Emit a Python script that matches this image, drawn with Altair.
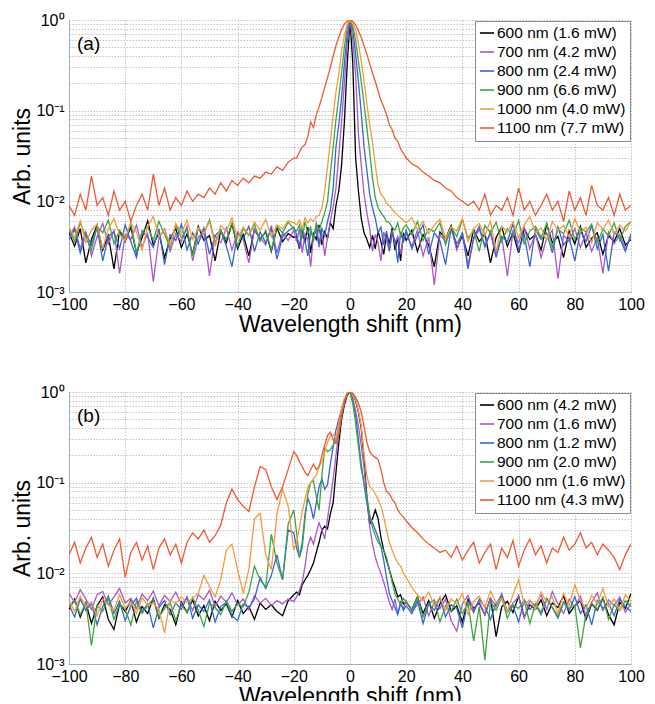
import altair as alt
import pandas as pd

FONT = "Liberation Sans"

# Sample positions (nm): coarse outside, 1 nm steps near the centre
X = [*range(-100, -19, 2), *range(-19, 20), *range(20, 101, 2)]

X_TICKS = [-100, -80, -60, -40, -20, 0, 20, 40, 60, 80, 100]
Y_GRID = [round(m * 10.0 ** e, 6) for e in (-3, -2, -1) for m in range(1, 10)] + [1]

COLORS = ["#000000", "#a858c8", "#3565d2", "#3ca543", "#f59b3e", "#ef5834"]

LABELS_A = ["600 nm (1.6 mW)", "700 nm (4.2 mW)", "800 nm (2.4 mW)",
            "900 nm (6.6 mW)", "1000 nm (4.0 mW)", "1100 nm (7.7 mW)"]
LABELS_B = ["600 nm (4.2 mW)", "700 nm (1.6 mW)", "800 nm (1.2 mW)",
            "900 nm (2.0 mW)", "1000 nm (1.6 mW)", "1100 nm (4.3 mW)"]

# ---------------- panel (a) ----------------
a_600 = ([0.0045, 0.0032, 0.0050, 0.0021, 0.0038, 0.0055, 0.0029, 0.0042, 0.0018, 0.0047,
          0.0036, 0.0052, 0.0027, 0.0040, 0.0061, 0.0033, 0.0045, 0.0024, 0.0039, 0.0050,
          0.0031, 0.0044, 0.0026, 0.0053, 0.0037, 0.0042, 0.0022, 0.0048, 0.0035, 0.0057,
          0.0030, 0.0043, 0.0025, 0.0049, 0.0038, 0.0046, 0.0028, 0.0051, 0.0036, 0.0044, 0.0040]
         + [0.0041, 0.0030, 0.0048, 0.0035, 0.0052, 0.0027, 0.0044, 0.0038, 0.0055, 0.0033,
            0.0046, 0.0039, 0.0058, 0.0050, 0.0090, 0.013, 0.025, 0.075, 0.32, 1.0,
            0.33, 0.030, 0.013, 0.0065, 0.0045, 0.0038, 0.0031, 0.0042, 0.0030, 0.0047,
            0.0036, 0.0026, 0.0044, 0.0034, 0.0051, 0.0029, 0.0040, 0.0022, 0.0045]
         + [0.0037, 0.0048, 0.0028, 0.0043, 0.0033, 0.0019, 0.0046, 0.0039, 0.0054, 0.0030,
            0.0042, 0.0025, 0.0049, 0.0036, 0.0044, 0.0021, 0.0040, 0.0052, 0.0032, 0.0045,
            0.0027, 0.0050, 0.0038, 0.0043, 0.0029, 0.0056, 0.0035, 0.0041, 0.0024, 0.0047,
            0.0034, 0.0053, 0.0031, 0.0039, 0.0045, 0.0026, 0.0042, 0.0036, 0.0050, 0.0033, 0.0038])

a_700 = ([0.0040, 0.0052, 0.0030, 0.0046, 0.0025, 0.0041, 0.0057, 0.0034, 0.0048, 0.0016,
          0.0043, 0.0038, 0.0055, 0.0031, 0.0045, 0.0013, 0.0039, 0.0050, 0.0028, 0.0044,
          0.0036, 0.0053, 0.0022, 0.0040, 0.0047, 0.0015, 0.0042, 0.0035, 0.0051, 0.0029,
          0.0046, 0.0038, 0.0021, 0.0049, 0.0040, 0.0033, 0.0054, 0.0027, 0.0045, 0.0037, 0.0048]
         + [0.0036, 0.0050, 0.0027, 0.0044, 0.0038, 0.0019, 0.0042, 0.0047, 0.0031, 0.0045,
            0.0025, 0.0040, 0.0060, 0.0087, 0.014, 0.032, 0.075, 0.20, 0.55, 1.0,
            0.60, 0.25, 0.055, 0.025, 0.012, 0.0075, 0.0050, 0.0028, 0.0043, 0.0035,
            0.0022, 0.0046, 0.0037, 0.0029, 0.0048, 0.0034, 0.0041, 0.0026, 0.0039]
         + [0.0044, 0.0032, 0.0048, 0.0025, 0.0040, 0.0012, 0.0043, 0.0036, 0.0051, 0.0029,
            0.0046, 0.0020, 0.0038, 0.0049, 0.0033, 0.0045, 0.0027, 0.0041, 0.0015, 0.0047,
            0.0035, 0.0052, 0.0030, 0.0044, 0.0024, 0.0039, 0.0048, 0.0014, 0.0042, 0.0036,
            0.0050, 0.0031, 0.0045, 0.0028, 0.0040, 0.0016, 0.0046, 0.0034, 0.0043, 0.0030, 0.0041])

a_800 = ([0.0038, 0.0049, 0.0027, 0.0044, 0.0033, 0.0052, 0.0022, 0.0041, 0.0046, 0.0030,
          0.0055, 0.0036, 0.0024, 0.0047, 0.0040, 0.0031, 0.0050, 0.0020, 0.0043, 0.0037,
          0.0056, 0.0029, 0.0045, 0.0034, 0.0051, 0.0026, 0.0042, 0.0048, 0.0032, 0.0019,
          0.0044, 0.0039, 0.0053, 0.0028, 0.0046, 0.0035, 0.0050, 0.0023, 0.0041, 0.0047, 0.0052]
         + [0.0043, 0.0031, 0.0052, 0.0036, 0.0025, 0.0047, 0.0039, 0.0055, 0.0034, 0.0050,
            0.0042, 0.0060, 0.0080, 0.014, 0.040, 0.070, 0.14, 0.33, 0.70, 1.0,
            0.78, 0.42, 0.21, 0.095, 0.040, 0.022, 0.012, 0.0085, 0.0065, 0.0045,
            0.0052, 0.0033, 0.0047, 0.0028, 0.0044, 0.0037, 0.0021, 0.0046, 0.0035]
         + [0.0048, 0.0030, 0.0042, 0.0055, 0.0026, 0.0045, 0.0037, 0.0020, 0.0050, 0.0034,
            0.0044, 0.0018, 0.0040, 0.0053, 0.0031, 0.0046, 0.0024, 0.0041, 0.0036, 0.0057,
            0.0029, 0.0043, 0.0019, 0.0049, 0.0038, 0.0045, 0.0027, 0.0052, 0.0033, 0.0040,
            0.0022, 0.0047, 0.0036, 0.0054, 0.0030, 0.0043, 0.0017, 0.0046, 0.0039, 0.0028, 0.0044])

a_900 = ([0.0050, 0.0036, 0.0058, 0.0041, 0.0029, 0.0053, 0.0045, 0.0062, 0.0034, 0.0048,
          0.0039, 0.0057, 0.0027, 0.0046, 0.0052, 0.0037, 0.0060, 0.0043, 0.0031, 0.0055,
          0.0040, 0.0049, 0.0025, 0.0051, 0.0044, 0.0063, 0.0035, 0.0047, 0.0038, 0.0058,
          0.0032, 0.0050, 0.0042, 0.0056, 0.0036, 0.0048, 0.0029, 0.0053, 0.0045, 0.0059, 0.0050]
         + [0.0047, 0.0055, 0.0039, 0.0060, 0.0044, 0.0052, 0.0036, 0.0058, 0.0048, 0.0060,
            0.0075, 0.010, 0.020, 0.040, 0.080, 0.14, 0.26, 0.50, 0.82, 1.0,
            0.85, 0.60, 0.35, 0.21, 0.12, 0.065, 0.035, 0.018, 0.011, 0.0085,
            0.0075, 0.0068, 0.0060, 0.0058, 0.0052, 0.0048, 0.0058, 0.0042, 0.0051]
         + [0.0055, 0.0043, 0.0060, 0.0037, 0.0050, 0.0046, 0.0058, 0.0033, 0.0052, 0.0041,
            0.0063, 0.0039, 0.0048, 0.0028, 0.0054, 0.0045, 0.0059, 0.0036, 0.0050, 0.0042,
            0.0061, 0.0034, 0.0047, 0.0053, 0.0040, 0.0057, 0.0031, 0.0049, 0.0044, 0.0062,
            0.0038, 0.0051, 0.0046, 0.0056, 0.0035, 0.0049, 0.0042, 0.0058, 0.0037, 0.0053, 0.0060])

a_1000 = ([0.0052, 0.0040, 0.0061, 0.0035, 0.0048, 0.0056, 0.0030, 0.0050, 0.0064, 0.0043,
           0.0037, 0.0058, 0.0046, 0.0029, 0.0053, 0.0068, 0.0041, 0.0049, 0.0033, 0.0057,
           0.0045, 0.0062, 0.0038, 0.0051, 0.0044, 0.0060, 0.0032, 0.0054, 0.0047, 0.0066,
           0.0039, 0.0052, 0.0043, 0.0059, 0.0048, 0.0063, 0.0041, 0.0055, 0.0050, 0.0061, 0.0058]
          + [0.0055, 0.0062, 0.0050, 0.0066, 0.0058, 0.0064, 0.0060, 0.0068, 0.0070, 0.0085,
             0.013, 0.024, 0.045, 0.090, 0.16, 0.25, 0.45, 0.68, 0.90, 1.0,
             0.92, 0.78, 0.55, 0.35, 0.21, 0.12, 0.070, 0.045, 0.025, 0.015,
             0.012, 0.011, 0.0095, 0.0090, 0.0082, 0.0075, 0.0070, 0.0066, 0.0062]
          + [0.0058, 0.0066, 0.0049, 0.0060, 0.0044, 0.0055, 0.0063, 0.0039, 0.0052, 0.0047,
             0.0065, 0.0036, 0.0050, 0.0057, 0.0042, 0.0061, 0.0028, 0.0053, 0.0046, 0.0059,
             0.0040, 0.0055, 0.0068, 0.0045, 0.0051, 0.0037, 0.0060, 0.0048, 0.0054, 0.0041,
             0.0064, 0.0046, 0.0052, 0.0035, 0.0058, 0.0049, 0.0062, 0.0043, 0.0055, 0.0047, 0.0060])

a_1100 = ([0.009, 0.007, 0.012, 0.008, 0.019, 0.009, 0.011, 0.007, 0.013, 0.008,
           0.010, 0.006, 0.009, 0.012, 0.008, 0.020, 0.009, 0.014, 0.008, 0.011,
           0.009, 0.013, 0.010, 0.012, 0.011, 0.014, 0.012, 0.016, 0.013, 0.017,
           0.015, 0.018, 0.016, 0.019, 0.018, 0.021, 0.020, 0.024, 0.022, 0.027, 0.030]
          + [0.030, 0.035, 0.040, 0.042, 0.052, 0.075, 0.065, 0.090, 0.11, 0.14,
             0.18, 0.23, 0.30, 0.40, 0.52, 0.65, 0.78, 0.90, 0.97, 1.0,
             0.97, 0.88, 0.76, 0.64, 0.52, 0.42, 0.33, 0.26, 0.21, 0.165,
             0.13, 0.11, 0.090, 0.070, 0.062, 0.050, 0.046, 0.038, 0.034]
          + [0.030, 0.026, 0.024, 0.021, 0.019, 0.017, 0.016, 0.014, 0.013, 0.011,
             0.010, 0.009, 0.010, 0.008, 0.012, 0.007, 0.009, 0.008, 0.011, 0.007,
             0.014, 0.008, 0.010, 0.007, 0.009, 0.012, 0.008, 0.010, 0.006, 0.013,
             0.008, 0.011, 0.007, 0.015, 0.009, 0.008, 0.011, 0.007, 0.012, 0.008, 0.009])

# ---------------- panel (b) ----------------
b_600 = ([0.0040, 0.0052, 0.0033, 0.0047, 0.0028, 0.0044, 0.0055, 0.0031, 0.0024, 0.0046,
          0.0038, 0.0050, 0.0029, 0.0043, 0.0036, 0.0053, 0.0032, 0.0045, 0.0040, 0.0027,
          0.0048, 0.0037, 0.0051, 0.0034, 0.0044, 0.0030, 0.0049, 0.0039, 0.0046, 0.0033,
          0.0050, 0.0036, 0.0043, 0.0031, 0.0047, 0.0040, 0.0045, 0.0038, 0.0034, 0.0050, 0.0058]
         + [0.0062, 0.0058, 0.0075, 0.0085, 0.0095, 0.011, 0.013, 0.017, 0.022, 0.030,
            0.033, 0.031, 0.045, 0.060, 0.13, 0.27, 0.50, 0.72, 0.92, 1.0,
            0.95, 0.80, 0.60, 0.40, 0.18, 0.070, 0.035, 0.040, 0.050, 0.040,
            0.025, 0.018, 0.014, 0.011, 0.0085, 0.0070, 0.0055, 0.0058, 0.0046]
         + [0.0048, 0.0040, 0.0055, 0.0036, 0.0050, 0.0032, 0.0046, 0.0058, 0.0038, 0.0044,
            0.0029, 0.0052, 0.0041, 0.0047, 0.0035, 0.0054, 0.0020, 0.0043, 0.0049, 0.0037,
            0.0056, 0.0033, 0.0045, 0.0040, 0.0051, 0.0034, 0.0047, 0.0042, 0.0057, 0.0036,
            0.0044, 0.0050, 0.0031, 0.0046, 0.0039, 0.0053, 0.0035, 0.0027, 0.0048, 0.0041, 0.0060])

b_700 = ([0.0060, 0.0048, 0.0066, 0.0052, 0.0040, 0.0058, 0.0063, 0.0045, 0.0055, 0.0068,
          0.0047, 0.0053, 0.0041, 0.0059, 0.0050, 0.0064, 0.0044, 0.0057, 0.0049, 0.0062,
          0.0046, 0.0054, 0.0039, 0.0058, 0.0051, 0.0065, 0.0043, 0.0056, 0.0048, 0.0061,
          0.0045, 0.0052, 0.0040, 0.0057, 0.0047, 0.0053, 0.0044, 0.0050, 0.0046, 0.0052, 0.0049]
         + [0.0055, 0.0065, 0.0080, 0.012, 0.020, 0.025, 0.021, 0.028, 0.036, 0.030,
            0.024, 0.040, 0.065, 0.11, 0.20, 0.35, 0.55, 0.78, 0.95, 1.0,
            0.85, 0.62, 0.42, 0.26, 0.15, 0.065, 0.033, 0.021, 0.015, 0.012,
            0.010, 0.0080, 0.0062, 0.0048, 0.0040, 0.0052, 0.0036, 0.0046, 0.0041]
         + [0.0050, 0.0038, 0.0045, 0.0055, 0.0034, 0.0048, 0.0041, 0.0052, 0.0030, 0.0023,
            0.0046, 0.0057, 0.0039, 0.0049, 0.0035, 0.0053, 0.0043, 0.0060, 0.0037, 0.0047,
            0.0055, 0.0032, 0.0050, 0.0044, 0.0058, 0.0040, 0.0063, 0.0046, 0.0036, 0.0052,
            0.0042, 0.0056, 0.0033, 0.0048, 0.0061, 0.0039, 0.0051, 0.0044, 0.0055, 0.0037, 0.0047])

b_800 = ([0.0045, 0.0033, 0.0052, 0.0039, 0.0047, 0.0027, 0.0043, 0.0056, 0.0036, 0.0049,
          0.0030, 0.0044, 0.0053, 0.0038, 0.0046, 0.0025, 0.0042, 0.0050, 0.0035, 0.0047,
          0.0040, 0.0055, 0.0032, 0.0045, 0.0038, 0.0051, 0.0029, 0.0043, 0.0048, 0.0034,
          0.0030, 0.0046, 0.0042, 0.0052, 0.0090, 0.0068, 0.0095, 0.016, 0.0085, 0.030, 0.028]
         + [0.019, 0.015, 0.022, 0.045, 0.068, 0.055, 0.040, 0.060, 0.090, 0.11,
            0.085, 0.095, 0.16, 0.25, 0.38, 0.50, 0.65, 0.82, 0.96, 1.0,
            0.80, 0.55, 0.30, 0.16, 0.095, 0.060, 0.042, 0.036, 0.030, 0.025,
            0.020, 0.014, 0.0090, 0.0060, 0.0050, 0.0042, 0.0035, 0.0048, 0.0039]
         + [0.0044, 0.0036, 0.0050, 0.0028, 0.0046, 0.0039, 0.0054, 0.0033, 0.0045, 0.0041,
            0.0025, 0.0049, 0.0037, 0.0052, 0.0043, 0.0031, 0.0047, 0.0056, 0.0038, 0.0044,
            0.0029, 0.0051, 0.0040, 0.0046, 0.0035, 0.0053, 0.0042, 0.0032, 0.0048, 0.0039,
            0.0055, 0.0036, 0.0045, 0.0027, 0.0050, 0.0041, 0.0047, 0.0034, 0.0052, 0.0043, 0.0038])

b_900 = ([0.0042, 0.0050, 0.0035, 0.0047, 0.0016, 0.0044, 0.0038, 0.0053, 0.0031, 0.0046,
          0.0040, 0.0027, 0.0049, 0.0036, 0.0044, 0.0052, 0.0033, 0.0041, 0.0048, 0.0030,
          0.0045, 0.0037, 0.0054, 0.0039, 0.0026, 0.0047, 0.0042, 0.0035, 0.0050, 0.0038,
          0.0046, 0.0043, 0.0062, 0.012, 0.0085, 0.0070, 0.027, 0.013, 0.0085, 0.035, 0.050]
         + [0.028, 0.015, 0.019, 0.040, 0.075, 0.10, 0.105, 0.070, 0.050, 0.12,
            0.24, 0.22, 0.23, 0.26, 0.30, 0.42, 0.60, 0.80, 0.95, 1.0,
            0.75, 0.45, 0.25, 0.14, 0.10, 0.070, 0.045, 0.032, 0.026, 0.022,
            0.020, 0.018, 0.015, 0.011, 0.0080, 0.0060, 0.0052, 0.0045, 0.0053]
         + [0.0048, 0.0040, 0.0055, 0.0033, 0.0046, 0.0051, 0.0029, 0.0044, 0.0038, 0.0052,
            0.0036, 0.0047, 0.0018, 0.0043, 0.0011, 0.0049, 0.0039, 0.0054, 0.0032, 0.0045,
            0.0041, 0.0050, 0.0028, 0.0046, 0.0037, 0.0053, 0.0042, 0.0034, 0.0048, 0.0041,
            0.0044, 0.0015, 0.0036, 0.0047, 0.0040, 0.0055, 0.0031, 0.0045, 0.0039, 0.0050, 0.0043])

b_1000 = ([0.0050, 0.0038, 0.0056, 0.0043, 0.0048, 0.0034, 0.0052, 0.0045, 0.0039, 0.0058,
           0.0041, 0.0049, 0.0036, 0.0054, 0.0044, 0.0047, 0.0040, 0.0022, 0.0051, 0.0046,
           0.0055, 0.0048, 0.0053, 0.0060, 0.0095, 0.0072, 0.0055, 0.0085, 0.018, 0.021,
           0.011, 0.0060, 0.011, 0.040, 0.046, 0.016, 0.011, 0.045, 0.085, 0.055, 0.018]
          + [0.022, 0.032, 0.048, 0.065, 0.090, 0.10, 0.11, 0.12, 0.15, 0.17,
             0.22, 0.28, 0.33, 0.34, 0.30, 0.45, 0.65, 0.85, 0.97, 1.0,
             0.96, 0.82, 0.62, 0.42, 0.20, 0.12, 0.090, 0.085, 0.075, 0.065,
             0.055, 0.042, 0.030, 0.022, 0.018, 0.015, 0.013, 0.012, 0.010]
          + [0.0090, 0.0070, 0.0058, 0.0050, 0.0062, 0.0044, 0.0055, 0.0039, 0.0052, 0.0046,
             0.0060, 0.0035, 0.0049, 0.0056, 0.0042, 0.0064, 0.0047, 0.0053, 0.0038, 0.0058,
             0.0085, 0.0045, 0.0051, 0.0040, 0.0062, 0.0048, 0.0055, 0.0036, 0.0060, 0.0044,
             0.0075, 0.0050, 0.0041, 0.0057, 0.0046, 0.0068, 0.0043, 0.0052, 0.0039, 0.0058, 0.0049])

b_1100 = ([0.016, 0.022, 0.013, 0.019, 0.025, 0.015, 0.021, 0.012, 0.018, 0.024,
           0.009, 0.017, 0.022, 0.014, 0.020, 0.011, 0.019, 0.024, 0.016, 0.021,
           0.013, 0.022, 0.028, 0.024, 0.030, 0.022, 0.026, 0.034, 0.060, 0.085,
           0.065, 0.055, 0.048, 0.090, 0.150, 0.140, 0.090, 0.065, 0.090, 0.140, 0.220]
          + [0.20, 0.17, 0.15, 0.13, 0.12, 0.14, 0.16, 0.14, 0.15, 0.20,
             0.26, 0.33, 0.36, 0.30, 0.27, 0.35, 0.55, 0.78, 0.95, 1.0,
             0.97, 0.88, 0.75, 0.60, 0.42, 0.28, 0.22, 0.20, 0.19, 0.18,
             0.14, 0.10, 0.080, 0.075, 0.066, 0.060, 0.050, 0.045, 0.042]
          + [0.038, 0.032, 0.028, 0.024, 0.021, 0.019, 0.017, 0.018, 0.015, 0.020,
             0.014, 0.018, 0.022, 0.013, 0.017, 0.021, 0.011, 0.019, 0.015, 0.023,
             0.012, 0.018, 0.024, 0.016, 0.020, 0.013, 0.019, 0.017, 0.025, 0.018,
             0.021, 0.028, 0.019, 0.022, 0.016, 0.021, 0.018, 0.015, 0.011, 0.016, 0.021])

SERIES_A = [a_600, a_700, a_800, a_900, a_1000, a_1100]
SERIES_B = [b_600, b_700, b_800, b_900, b_1000, b_1100]

Y_LABEL_EXPR = ("datum.value == 1 ? '10\u2070' : datum.value == 0.1 ? '10\u207b\u00b9' : "
                "datum.value == 0.01 ? '10\u207b\u00b2' : datum.value == 0.001 ? '10\u207b\u00b3' : ''")


def panel(labels, series, tag):
    rows = []
    for lab, ys in zip(labels, series):
        if len(ys) != len(X):
            raise ValueError(f"{tag} {lab}: {len(ys)} values, expected {len(X)}")
        for x, y in zip(X, ys):
            rows.append({"x": x, "y": y, "s": lab})
    df = pd.DataFrame(rows)

    base = alt.Chart(df).mark_line(strokeWidth=1.3, clip=True).encode(
        x=alt.X("x:Q",
                scale=alt.Scale(domain=[-100, 100], nice=False, zero=False),
                axis=alt.Axis(values=X_TICKS, title="Wavelength shift (nm)",
                              labelFlush=False, labelPadding=4, titlePadding=1,
                              tickSize=0)),
        y=alt.Y("y:Q",
                scale=alt.Scale(type="log", domain=[0.001, 1], nice=False),
                axis=alt.Axis(values=Y_GRID, labelExpr=Y_LABEL_EXPR, title="Arb. units",
                              labelOverlap=False, labelFlush=False, labelPadding=5,
                              titlePadding=1, tickSize=0)),
        color=alt.Color("s:N",
                        scale=alt.Scale(domain=labels, range=COLORS),
                        legend=alt.Legend(title=None, orient="top-right", offset=1,
                                          fillColor="white", strokeColor="#8c8c8c",
                                          padding=4, symbolType="stroke", symbolSize=200,
                                          symbolStrokeWidth=1.6, labelFontSize=15.5,
                                          labelFont=FONT, labelColor="black",
                                          labelOffset=2, rowPadding=2, labelLimit=220)),
    )
    layers = [base.transform_filter(alt.datum.s == lab) for lab in labels]
    tag_text = alt.Chart(pd.DataFrame({"t": [tag]})).mark_text(
        align="left", baseline="middle", fontSize=19, font=FONT, color="black"
    ).encode(x=alt.value(8), y=alt.value(24), text="t:N")
    return alt.layer(*layers, tag_text).properties(width=562, height=272)


pa = panel(LABELS_A, SERIES_A, "(a)")
pb = panel(LABELS_B, SERIES_B, "(b)")

chart = (
    alt.vconcat(pa, pb, spacing=48)
    .resolve_scale(color="independent")
    .resolve_legend(color="independent")
    .properties(padding={"left": 3, "top": 4, "right": 0, "bottom": -7})
    .configure_view(stroke=None)
    .configure_axis(
        labelFont=FONT, labelFontSize=16, labelColor="black",
        titleFont=FONT, titleFontSize=23, titleFontWeight="normal", titleColor="black",
        domainColor="#9fb0bc", domainWidth=1,
        gridColor="#b8b8b8", gridDash=[1.5, 1.5], gridWidth=0.8,
    )
)

chart.save("out.html", embed_options={"renderer": "svg", "actions": False})
